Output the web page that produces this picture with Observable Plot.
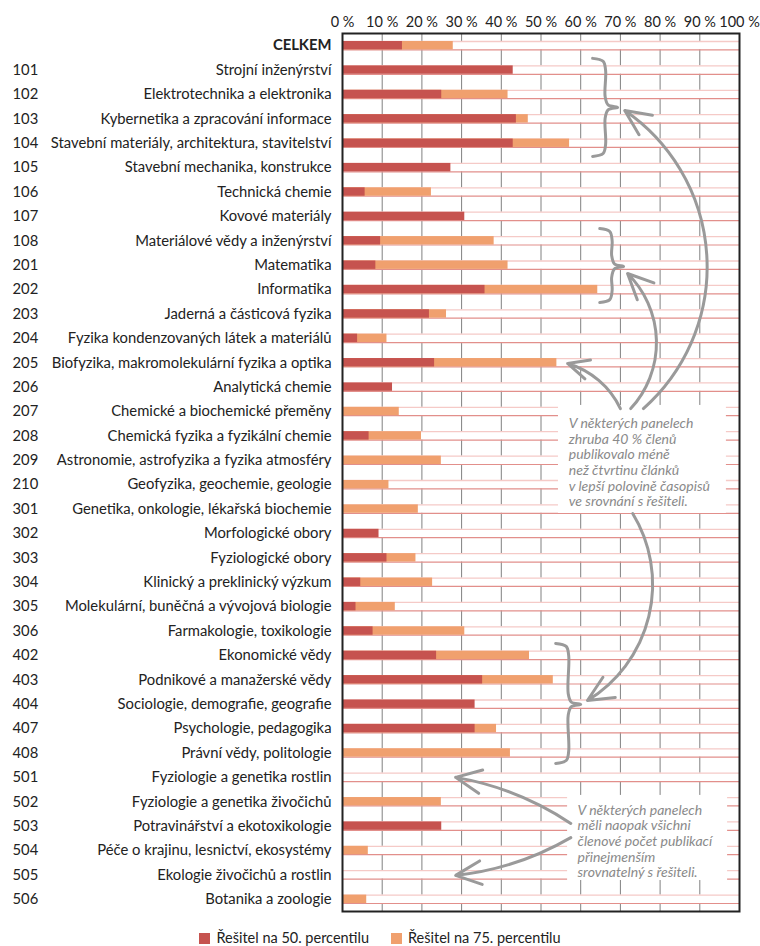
<!DOCTYPE html>
<html><head><meta charset="utf-8">
<script src="https://cdn.jsdelivr.net/npm/d3@7"></script>
<script src="https://cdn.jsdelivr.net/npm/@observablehq/plot@0.6"></script>
<style>
body{margin:0;background:#fff;font-family:Lato,"Open Sans",sans-serif;color:#222;}
#legend{display:flex;justify-content:center;align-items:center;gap:22px;font-size:14.5px;height:18px;margin-top:2px;}
#legend span.sw{display:inline-block;width:11px;height:11px;margin-right:6px;vertical-align:-1px;}
</style></head><body>
<div id="chart"></div>
<div id="legend"></div>
<script>
const codes = ["", "101","102","103","104","105","106","107","108",
  "201","202","203","204","205","206","207","208","209","210",
  "301","302","303","304","305","306",
  "402","403","404","407","408",
  "501","502","503","504","505","506"];
const names = ["CELKEM","Strojní inženýrství","Elektrotechnika a elektronika","Kybernetika a zpracování informace",
  "Stavební materiály, architektura, stavitelství","Stavební mechanika, konstrukce","Technická chemie","Kovové materiály",
  "Materiálové vědy a inženýrství","Matematika","Informatika","Jaderná a částicová fyzika",
  "Fyzika kondenzovaných látek a materiálů","Biofyzika, makromolekulární fyzika a optika","Analytická chemie",
  "Chemické a biochemické přeměny","Chemická fyzika a fyzikální chemie","Astronomie, astrofyzika a fyzika atmosféry",
  "Geofyzika, geochemie, geologie","Genetika, onkologie, lékařská biochemie","Morfologické obory","Fyziologické obory",
  "Klinický a preklinický výzkum","Molekulární, buněčná a vývojová biologie","Farmakologie, toxikologie",
  "Ekonomické vědy","Podnikové a manažerské vědy","Sociologie, demografie, geografie","Psychologie, pedagogika",
  "Právní vědy, politologie","Fyziologie a genetika rostlin","Fyziologie a genetika živočichů",
  "Potravinářství a ekotoxikologie","Péče o krajinu, lesnictví, ekosystémy","Ekologie živočichů a rostlin","Botanika a zoologie"];
const p50 = [15.1, 43, 25, 43.8, 43, 27.3, 5.7, 30.8, 9.6, 8.4, 35.9, 21.9, 3.8, 23.2, 12.6, null, 6.7, null, null, null,
  9.2, 11.2, 4.6, 3.4, 7.7, 23.7, 35.3, 33.4, 33.4, null, null, null, 25, null, null, null];
const p75 = [27.9, null, 41.7, 46.8, 57.2, null, 22.4, null, 38.2, 41.7, 64.3, 26.2, 11.2, 54, null, 14.3, 19.9, 24.9, 11.7, 19.1,
  null, 18.5, 22.7, 13.3, 30.8, 47.1, 53.1, null, 38.8, 42.3, null, 24.9, null, 6.5, null, 6.1];
const tickValues = [0,10,20,30,40,50,60,70,80,90,100];
const seriesNames = ["Řešitel na 50. percentilu", "Řešitel na 75. percentilu"];
const colors = ["#c6534f", "#f0a06e"];

// annotations (x in %, y in row index)
const noteTexts = [
  "V některých panelech\nzhruba 40 % členů\npublikovalo méně\nnež čtvrtinu článků\nv lepší polovině časopisů\nve srovnání s řešiteli.",
  "V některých panelech\nměli naopak všichni\nčlenové počet publikací\npřinejmenším\nsrovnatelný s řešiteli."
];
const noteX = [57.0, 59.2];
const noteY = [17.07, 32.61];
const boxX1 = [54.4, 56.7], boxX2 = [96.7, 97.0], boxY1 = [14.75, 30.74], boxY2 = [19.18, 34.23];
const arrowX1 = [75.8, 72.6, 70.0, 73.1, 57.5, 57.5];
const arrowY1 = [14.88, 14.88, 14.88, 19.18, 31.89, 32.47];
const arrowX2 = [71.1, 71.8, 56.7, 61.7, 28.5, 28.5];
const arrowY2 = [2.66, 9.34, 13.03, 26.85, 30.0, 34.02];
const arrowBend = [-52, -44, -24, 45, -12, 12];
const braceX = [63.0, 64.8, 53.7], braceW = [6.3, 6.0, 6.3];
const braceTop = [0.52, 7.5, 24.51], braceTip = [2.53, 9.05, 27.01], braceBot = [4.54, 10.53, 29.43];

const rows = names.map((name, i) => ({i, name, code: codes[i], p50: p50[i], p75: p75[i]}));
const h = 0.172;
const notes = noteTexts.map((t, k) => ({t, x: noteX[k], y: noteY[k]}));
const boxes = boxX1.map((_, k) => ({x1: boxX1[k], x2: boxX2[k], y1: boxY1[k], y2: boxY2[k]}));
const arrows = arrowX1.map((_, k) => ({x1: arrowX1[k], y1: arrowY1[k], x2: arrowX2[k], y2: arrowY2[k], bend: arrowBend[k]}));
const bracePts = braceX.flatMap((x0, k) => {
  const w = braceW[k], t = braceTop[k], m = braceTip[k], b = braceBot[k];
  return [[0,t],[0.42,t+0.12],[0.52,t+0.5],[0.5,m-0.45],[0.62,m-0.1],[1,m],[0.62,m+0.1],[0.5,m+0.45],[0.52,b-0.5],[0.42,b-0.12],[0,b]]
    .map(([fx, y]) => ({k, x: x0 + fx * w, y}));
});
const font = "Lato, 'Open Sans', sans-serif";
const gray = "#9a9a9a";

const chart = Plot.plot({
  width: 760, height: 926,
  marginTop: 33, marginBottom: 15, marginLeft: 342, marginRight: 21,
  style: {fontFamily: font, fontSize: "13px", color: "#222", background: "white"},
  x: {domain: [0, 100], axis: null},
  y: {domain: [-0.5, 35.5], reverse: true, axis: null},
  marks: [
    Plot.ruleX(tickValues.slice(1, -1), {stroke: "#808080", strokeWidth: 1}),
    Plot.rect(rows, {x1: 0, x2: 100, y1: d => d.i - h, y2: d => d.i + h, fill: "white"}),
    Plot.ruleY(rows, {y: d => d.i - h, x1: 0, x2: 100, stroke: "#f5cac7", strokeWidth: 1.3}),
    Plot.ruleY(rows, {y: d => d.i + h, x1: 0, x2: 100, stroke: "#e28f8b", strokeWidth: 1.2}),
    Plot.rect(rows.filter(d => d.p75 != null), {x1: 0, x2: "p75", y1: d => d.i - h, y2: d => d.i + h, fill: colors[1]}),
    Plot.rect(rows.filter(d => d.p50 != null), {x1: 0, x2: "p50", y1: d => d.i - h, y2: d => d.i + h, fill: colors[0]}),
    Plot.frame({stroke: "#222", strokeWidth: 2}),
    Plot.axisX(tickValues, {anchor: "top", tickSize: 0, tickPadding: 7, tickFormat: d => d + " %", fontSize: 14.5, label: null}),
    Plot.text(rows.filter(d => d.i > 0), {x: 0, y: "i", text: "name", textAnchor: "end", dx: -11, fontSize: 14.8, fill: "#222"}),
    Plot.text(rows.filter(d => d.i === 0), {x: 0, y: "i", text: "name", textAnchor: "end", dx: -11, fontSize: 14.8, fontWeight: "bold", fill: "#222"}),
    Plot.text(rows, {x: 0, y: "i", text: "code", textAnchor: "start", dx: -330, fontSize: 14.8, fill: "#222"}),
    Plot.rect(boxes, {x1: "x1", x2: "x2", y1: "y1", y2: "y2", fill: "white"}),
    Plot.line(bracePts, {x: "x", y: "y", z: "k", curve: "catmull-rom", stroke: gray, strokeWidth: 3, strokeLinecap: "round"}),
    ...arrows.map(a => Plot.arrow([a], {x1: "x1", y1: "y1", x2: "x2", y2: "y2", bend: a.bend, stroke: gray, strokeWidth: 3, headLength: 14, headAngle: 50})),
    Plot.text(notes, {x: "x", y: "y", text: "t", textAnchor: "start", lineAnchor: "middle", lineHeight: 1.12, fontSize: 14, fontStyle: "italic", fill: "#8a8a8a"})
  ]
});
document.getElementById("chart").append(chart);

const legend = document.getElementById("legend");
seriesNames.forEach((n, k) => {
  const item = document.createElement("div");
  item.innerHTML = `<span class="sw" style="background:${colors[k]}"></span>${n}`;
  legend.append(item);
});
</script>
</body></html>
